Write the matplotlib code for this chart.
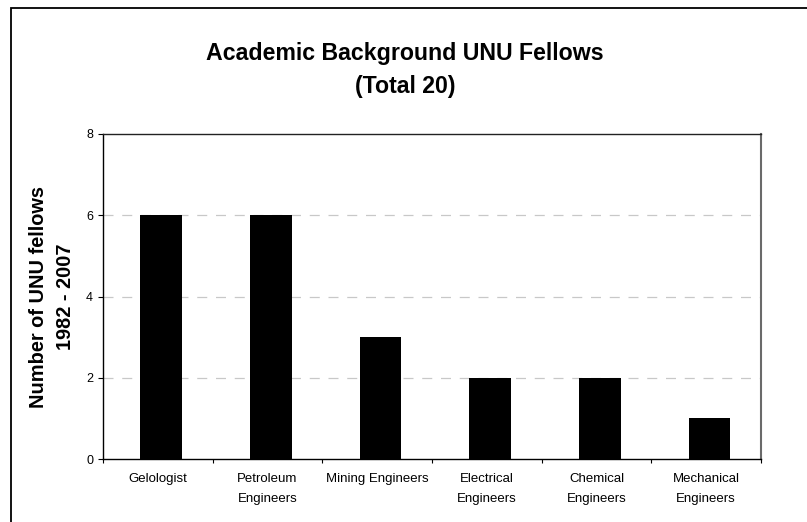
import matplotlib
matplotlib.use('Agg')
import matplotlib.pyplot as plt
from matplotlib.patches import Rectangle
import numpy as np

# Daten
categories = ["Gelologist", "Petroleum\nEngineers", "Mining Engineers",
              "Electrical\nEngineers", "Chemical\nEngineers", "Mechanical\nEngineers"]
fellows = [6, 6, 3, 2, 2, 1]
y_ticks = [0, 2, 4, 6, 8]

plt.rcParams['font.family'] = ['Liberation Sans', 'DejaVu Sans']

fig = plt.figure(figsize=(8.07, 5.22), dpi=100)
ax = fig.add_axes([103 / 807, 1 - 459 / 522, (761 - 103) / 807, (459 - 134) / 522])

# Rahmen (nur links und oben sichtbar, Bild abgeschnitten)
fig.patches.append(Rectangle((11 / 807, -0.1), 1.2, 1 - 8 / 522 + 0.1,
                             transform=fig.transFigure, fill=False,
                             edgecolor='black', linewidth=1.3))

x = np.arange(len(categories))
ax.bar(x + 0.03, fellows, width=0.38, color='black', zorder=3)

ax.set_xlim(-0.5, len(categories) - 0.5)
ax.set_ylim(0, 8)
ax.set_yticks(y_ticks)
ax.set_yticklabels([str(v) for v in y_ticks], fontsize=9)

ax.set_xticks(x)
ax.set_xticklabels(categories, fontsize=9.5, linespacing=1.9)
ax.tick_params(axis='x', which='major', length=0, pad=10)
ax.set_xticks(np.arange(-0.5, len(categories)), minor=True)
ax.tick_params(axis='x', which='minor', length=3, width=0.8, direction='out')
ax.tick_params(axis='y', length=3.6, width=0.8, direction='out', pad=3.5)

for yv in y_ticks[1:-1]:
    ax.axhline(yv, color='#c8c8c8', linewidth=0.9, linestyle=(0, (8, 7)), zorder=1)

ax.spines['left'].set_color('black')
ax.spines['bottom'].set_color('black')
ax.spines['top'].set_color('#222222')
ax.spines['right'].set_color('#6a6a6a')
for s in ax.spines.values():
    s.set_linewidth(1.0)
ax.spines['right'].set_linewidth(1.5)

fig.text(52 / 807, 1 - 297 / 522, "Number of UNU fellows\n1982 - 2007",
         rotation=90, ha='center', va='center', fontsize=14.4,
         fontweight='bold', linespacing=1.5)

fig.text(405 / 807, 1 - 70 / 522, "Academic Background UNU Fellows\n(Total 20)",
         ha='center', va='center', fontsize=16.7, fontweight='bold', linespacing=1.6)

fig.savefig("out.png", dpi=100)
